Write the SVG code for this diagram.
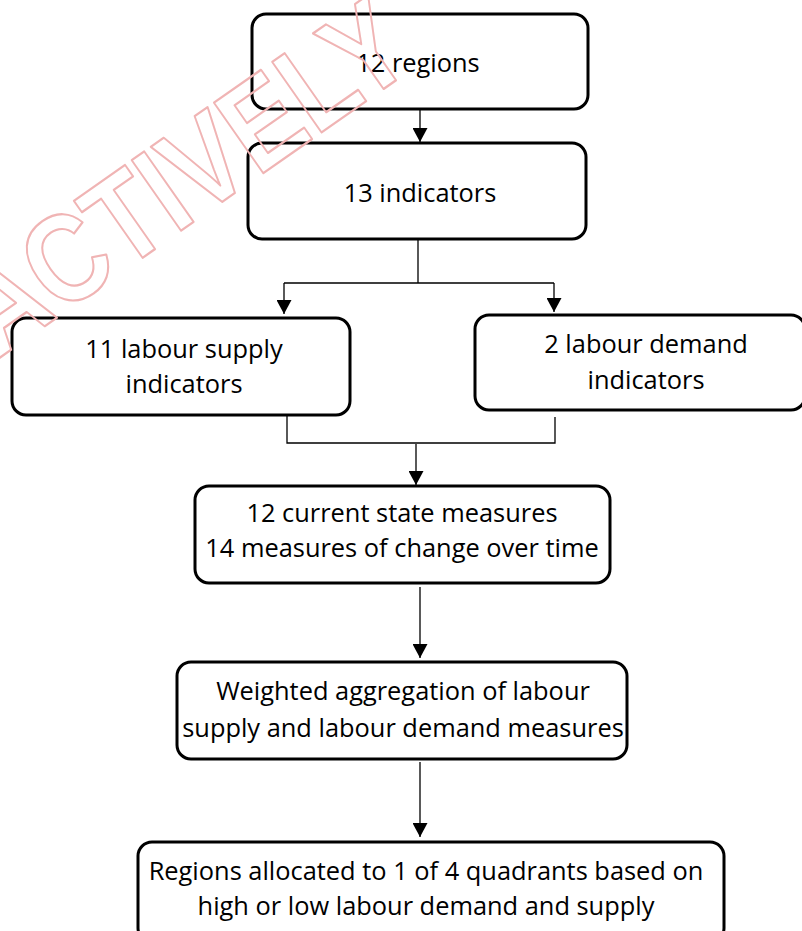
<svg xmlns="http://www.w3.org/2000/svg" width="802" height="931" viewBox="0 0 802 931">
<style>
.box{fill:#fff;stroke:#000;stroke-width:3}
.t{font-family:"Open Sans","Noto Sans","Liberation Sans",sans-serif;font-size:25.4px;fill:#000;text-anchor:middle}
.c{fill:none;stroke:#000;stroke-width:1.3}
.wm{font-family:"Liberation Sans",Arial,sans-serif;font-weight:bold;font-size:125px;fill:none;stroke:#f0b4b4;stroke-width:2.2;stroke-linejoin:round}
</style>
<defs>
<marker id="ah" markerUnits="userSpaceOnUse" markerWidth="16" markerHeight="15" refX="14" refY="7.5" orient="auto">
<path d="M0,0 L14,7.5 L0,15 Z" fill="#000"/>
</marker>
</defs>
<rect width="802" height="931" fill="#fff"/>
<g id="connectors">
<path class="c" d="M420,110 V142" marker-end="url(#ah)"/>
<path class="c" d="M418,239 V283 M284,283 H554"/>
<path class="c" d="M284,283 V314" marker-end="url(#ah)"/>
<path class="c" d="M554,283 V312" marker-end="url(#ah)"/>
<path class="c" d="M287,416 V443 H555 V417"/>
<path class="c" d="M416,444 V485" marker-end="url(#ah)"/>
<path class="c" d="M420,587 V658" marker-end="url(#ah)"/>
<path class="c" d="M420,762 V837" marker-end="url(#ah)"/>
</g>
<g id="n1">
<rect class="box" x="252" y="14" width="336" height="95" rx="14"/>
<text class="t" x="418" y="72">12 regions</text>
</g>
<g id="n2">
<rect class="box" x="248" y="143" width="338" height="96" rx="14"/>
<text class="t" x="420" y="202">13 indicators</text>
</g>
<g id="n3">
<rect class="box" x="12" y="318" width="338" height="97" rx="14"/>
<text class="t" x="184" y="358">11 labour supply</text>
<text class="t" x="184" y="393">indicators</text>
</g>
<g id="n4">
<rect class="box" x="475" y="315" width="330" height="95" rx="14"/>
<text class="t" x="646" y="353">2 labour demand</text>
<text class="t" x="646" y="389">indicators</text>
</g>
<g id="n5">
<rect class="box" x="195" y="486" width="415" height="97" rx="14"/>
<text class="t" x="402" y="522">12 current state measures</text>
<text class="t" x="402" y="557">14 measures of change over time</text>
</g>
<g id="n6">
<rect class="box" x="177" y="662" width="450" height="97" rx="14"/>
<text class="t" x="403" y="700">Weighted aggregation of labour</text>
<text class="t" x="403" y="737">supply and labour demand measures</text>
</g>
<g id="n7">
<rect class="box" x="138" y="842" width="586" height="100" rx="14"/>
<text class="t" x="426" y="880">Regions allocated to 1 of 4 quadrants based on</text>
<text class="t" x="426" y="915">high or low labour demand and supply</text>
</g>
<g id="watermark">
<text class="wm" transform="translate(-3.5,360) rotate(-35) scale(0.85,1)">ACTIVELY</text>
</g>
</svg>
